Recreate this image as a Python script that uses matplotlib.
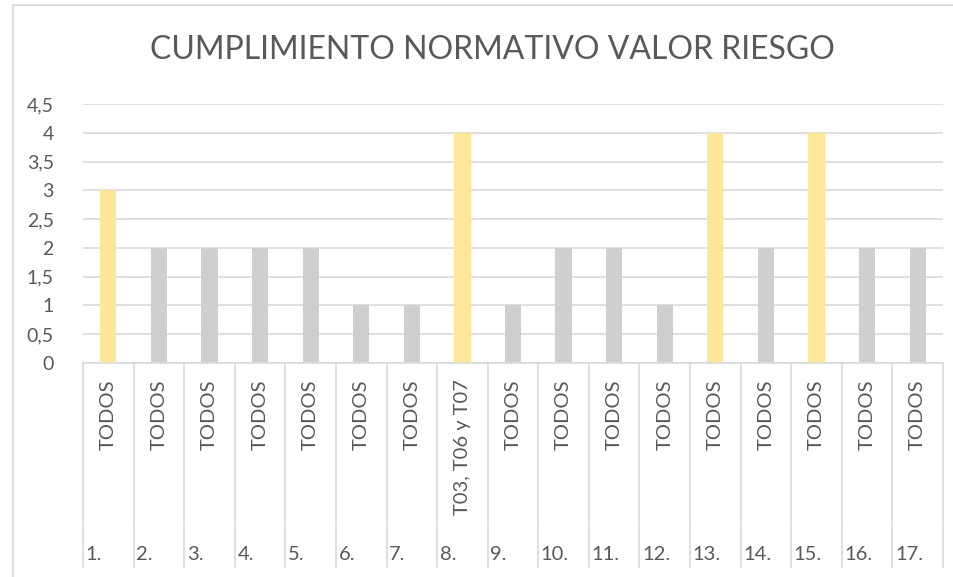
import matplotlib.pyplot as plt
import numpy as np

# datos del grafico
numeros = ["1.", "2.", "3.", "4.", "5.", "6.", "7.", "8.", "9.", "10.",
           "11.", "12.", "13.", "14.", "15.", "16.", "17."]
aplica = ["TODOS", "TODOS", "TODOS", "TODOS", "TODOS", "TODOS", "TODOS",
          "T03, T06 y T07", "TODOS", "TODOS", "TODOS", "TODOS", "TODOS",
          "TODOS", "TODOS", "TODOS", "TODOS"]
valor_riesgo = [3, 2, 2, 2, 2, 1, 1, 4, 1, 2, 2, 1, 4, 2, 4, 2, 2]

AMARILLO = "#FFE699"
GRIS = "#D0CECE"
TEXTO = "#595959"
LINEA = "#D9D9D9"

plt.rcParams['font.family'] = ['Lato', 'DejaVu Sans']

W, H = 954, 577
fig = plt.figure(figsize=(W / 100, H / 100), dpi=100)

# marco del grafico (cortado a la derecha y abajo)
fig.add_artist(plt.Line2D([13 / W, 13 / W], [0, 1 - 5 / H], color=LINEA, lw=1.2))
fig.add_artist(plt.Line2D([13 / W, 1], [1 - 5 / H, 1 - 5 / H], color=LINEA, lw=1.2))

x0, x1 = 83, 943
y0, y1 = 363, 104
ax = fig.add_axes([x0 / W, 1 - y0 / H, (x1 - x0) / W, (y0 - y1) / H])

n = len(valor_riesgo)
x = np.arange(n)
colores = [AMARILLO if v >= 3 else GRIS for v in valor_riesgo]
ax.bar(x, valor_riesgo, width=0.32, color=colores, zorder=3)

ax.set_xlim(-0.5, n - 0.5)
ax.set_ylim(0, 4.5)
ax.set_yticks(np.arange(0, 4.51, 0.5))
ax.set_yticklabels([f"{t:g}".replace(".", ",") for t in np.arange(0, 4.51, 0.5)])
ax.tick_params(axis='y', length=0, labelsize=14, labelcolor=TEXTO, pad=21)
ax.set_xticks([])
ax.grid(axis='y', color=LINEA, lw=1.2, zorder=0)
for s in ['top', 'right', 'left']:
    ax.spines[s].set_visible(False)
ax.spines['bottom'].set_color(LINEA)
ax.spines['bottom'].set_linewidth(1.2)
ax.spines['bottom'].set_zorder(4)

# eje de categorias de dos niveles
trans = ax.get_xaxis_transform()
def fy(py):
    return (y0 - py) / (y0 - y1)

for i in range(n + 1):
    ax.plot([i - 0.5, i - 0.5], [fy(363), fy(520)], color=LINEA, lw=1.2,
            transform=trans, clip_on=False)
    ax.plot([i - 0.5, i - 0.5], [fy(522), fy(567)], color=LINEA, lw=1.2,
            transform=trans, clip_on=False)

for i in range(n):
    ax.text(i, fy(379), aplica[i], rotation=90, ha='center', va='top',
            fontsize=14.5, color=TEXTO, transform=trans)
    ax.text(i - 0.45, fy(555), numeros[i], ha='left', va='center',
            fontsize=14.5, color=TEXTO, transform=trans)

fig.text(492 / W, 1 - 50 / H, "CUMPLIMIENTO NORMATIVO VALOR RIESGO",
         ha='center', va='center', fontsize=23, color=TEXTO)

fig.savefig("out.png", dpi=100, facecolor='white')
